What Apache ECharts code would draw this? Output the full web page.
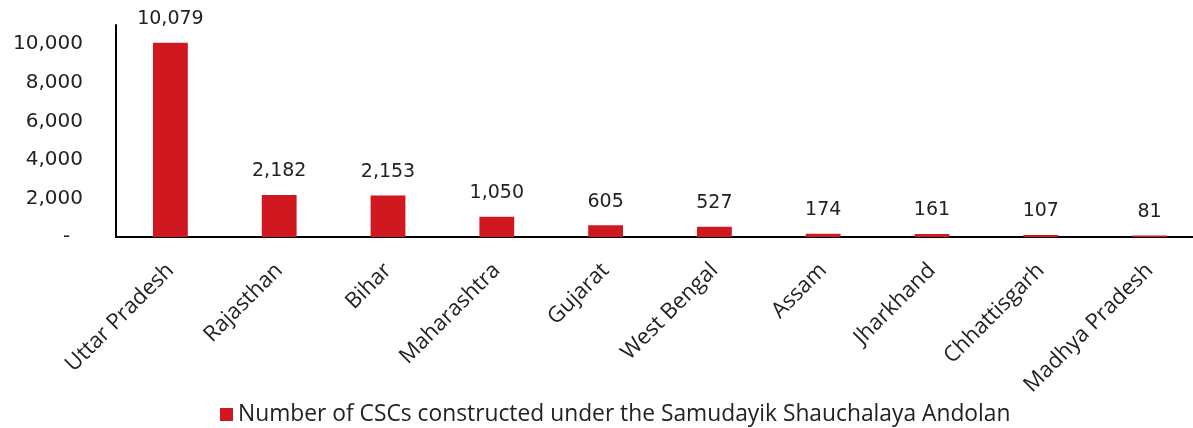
<!DOCTYPE html>
<html>
<head>
<meta charset="utf-8">
<script src="https://cdn.jsdelivr.net/npm/echarts@6/dist/echarts.min.js"></script>
<style>html,body{margin:0;padding:0;background:#fff;overflow:hidden}#c{width:1205px;height:428px}</style>
</head>
<body>
<div id="c"></div>
<script>
const categories = ["Uttar Pradesh","Rajasthan","Bihar","Maharashtra","Gujarat","West Bengal","Assam","Jharkhand","Chhattisgarh","Madhya Pradesh"];
const values = [10079, 2182, 2153, 1050, 605, 527, 174, 161, 107, 81];
const seriesName = "Number of CSCs constructed under the Samudayik Shauchalaya Andolan";
const yTicks = [0, 2000, 4000, 6000, 8000, 10000];

const fmt = v => v.toLocaleString('en-US');
const chart = echarts.init(document.getElementById('c'), null, {renderer: 'canvas'});
chart.setOption({
  animation: false,
  backgroundColor: '#fff',
  grid: {left: 116, right: 1, top: 25, bottom: 191, containLabel: false},
  legend: {
    data: [seriesName], top: 398, left: 215, icon: 'rect', itemWidth: 13, itemHeight: 13, itemGap: 5,
    textStyle: {fontFamily: 'Open Sans', fontSize: 22.8, color: '#222'}
  },
  xAxis: {
    type: 'category', data: categories,
    axisLine: {lineStyle: {color: '#000', width: 2}},
    axisTick: {show: false},
    axisLabel: {rotate: 45, interval: 0, margin: 30, fontFamily: 'Open Sans', fontSize: 22, color: '#222'}
  },
  yAxis: {
    type: 'value', min: 0, max: 11000, interval: 2000,
    splitLine: {show: false},
    axisLine: {show: true, lineStyle: {color: '#000', width: 2}},
    axisTick: {show: false},
    axisLabel: {margin: 33, fontFamily: 'DejaVu Sans', fontSize: 20, color: '#222',
      formatter: v => v === 0 ? '-  ' : (yTicks.includes(v) ? fmt(v) : '')}
  },
  series: [{
    name: seriesName, type: 'bar', data: values, barWidth: '32%',
    itemStyle: {color: '#cf181f'},
    label: {show: true, position: 'top', distance: 14, fontFamily: 'DejaVu Sans', fontSize: 19, color: '#222',
      formatter: p => fmt(p.value)}
  }]
});
</script>
</body>
</html>
